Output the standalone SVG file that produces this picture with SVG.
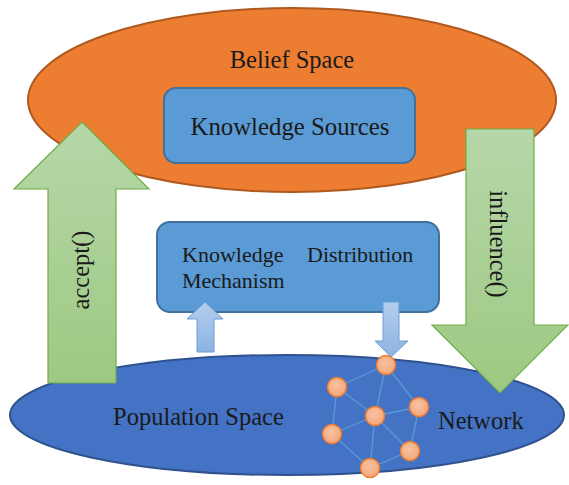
<svg xmlns="http://www.w3.org/2000/svg" width="569" height="485" viewBox="0 0 569 485">
  <defs>
    <linearGradient id="greenFill" x1="0" y1="0" x2="0" y2="1">
      <stop offset="0" stop-color="#B6D7A8"/>
      <stop offset="1" stop-color="#9DC983"/>
    </linearGradient>
    <linearGradient id="lightBlueFill" x1="0" y1="0" x2="0" y2="1">
      <stop offset="0" stop-color="#B4CEEC"/>
      <stop offset="1" stop-color="#8DB3E2"/>
    </linearGradient>
    <radialGradient id="nodeFill" cx="0.45" cy="0.4" r="0.6">
      <stop offset="0" stop-color="#F8C3A0"/>
      <stop offset="1" stop-color="#F3A77B"/>
    </radialGradient>
  </defs>
  <style>
    text { font-family: "Liberation Serif", "Times New Roman", serif; fill: #1a1a1a; }
    .big { font-size: 24.5px; }
    .ks { font-size: 24.8px; }
    .mid { font-size: 22px; }
    .box { fill: #5B9BD5; stroke: #41719C; stroke-width: 2; }
    .bigArrow { fill: url(#greenFill); stroke: #70AD47; stroke-width: 1.2; }
    .smallArrow { fill: url(#lightBlueFill); stroke: #6A9FD8; stroke-width: 1; }
    .edge { stroke: #5B9BD5; stroke-width: 1.3; fill: none; }
    .netNode { fill: url(#nodeFill); stroke: #ED7D31; stroke-width: 1.5; }
  </style>

  <!-- Belief space -->
  <g id="belief-space">
    <ellipse cx="292" cy="100" rx="264" ry="92" fill="#ED7D31" stroke="#AE5A21" stroke-width="2"/>
    <text class="big" x="292" y="68" text-anchor="middle">Belief Space</text>
  </g>

  <g id="knowledge-sources">
    <rect class="box" x="164" y="88" width="251" height="75" rx="12"/>
    <text class="ks" x="290" y="135" text-anchor="middle">Knowledge Sources</text>
  </g>

  <!-- Population space -->
  <g id="population-space">
    <ellipse cx="287" cy="415" rx="277" ry="60" fill="#4472C4" stroke="#2F528F" stroke-width="2"/>
    <text class="big" x="113" y="425">Population Space</text>
  </g>

  <g id="knowledge-distribution">
    <rect class="box" x="157" y="222" width="282" height="90" rx="13"/>
    <text class="mid" x="182" y="262">Knowledge</text>
    <text class="mid" x="307" y="262">Distribution</text>
    <text class="mid" x="182" y="288">Mechanism</text>
  </g>

  <!-- Connectors -->
  <g id="connectors">
    <g id="accept-arrow">
      <polygon class="bigArrow" points="82,122 149,189 116,189 116,383 48,383 48,189 14,189"/>
      <text class="big" transform="translate(89,270) rotate(-90)" text-anchor="middle">accept()</text>
    </g>
    <g id="influence-arrow">
      <polygon class="bigArrow" points="466,129 534,129 534,325 568,325 500,393 432,325 466,325"/>
      <text class="big" transform="translate(490,244) rotate(90)" text-anchor="middle">influence()</text>
    </g>
    <polygon class="smallArrow" points="205,302 223,319 214,319 214,352 197,352 197,319 187,319"/>
    <polygon class="smallArrow" points="383,302 399,302 399,341 408,341 391,357 375,341 383,341"/>
  </g>

  <!-- Network -->
  <g id="network">
    <g id="network-edges">
      <line class="edge" x1="386" y1="365" x2="337" y2="387"/>
      <line class="edge" x1="386" y1="365" x2="375" y2="416"/>
      <line class="edge" x1="386" y1="365" x2="419" y2="407"/>
      <line class="edge" x1="337" y1="387" x2="375" y2="416"/>
      <line class="edge" x1="337" y1="387" x2="332" y2="434"/>
      <line class="edge" x1="375" y1="416" x2="419" y2="407"/>
      <line class="edge" x1="375" y1="416" x2="332" y2="434"/>
      <line class="edge" x1="375" y1="416" x2="370" y2="468"/>
      <line class="edge" x1="375" y1="416" x2="410" y2="451"/>
      <line class="edge" x1="419" y1="407" x2="410" y2="451"/>
      <line class="edge" x1="332" y1="434" x2="370" y2="468"/>
      <line class="edge" x1="370" y1="468" x2="410" y2="451"/>
    </g>
    <circle id="n1" class="netNode" cx="386" cy="365" r="9.5"/>
    <circle id="n2" class="netNode" cx="337" cy="387" r="9.5"/>
    <circle id="n3" class="netNode" cx="419" cy="407" r="9.5"/>
    <circle id="n4" class="netNode" cx="375" cy="416" r="9.5"/>
    <circle id="n5" class="netNode" cx="332" cy="434" r="9.5"/>
    <circle id="n6" class="netNode" cx="410" cy="451" r="9.5"/>
    <circle id="n7" class="netNode" cx="370" cy="468" r="9.5"/>
    <text class="big" x="438" y="429">Network</text>
  </g>
</svg>
